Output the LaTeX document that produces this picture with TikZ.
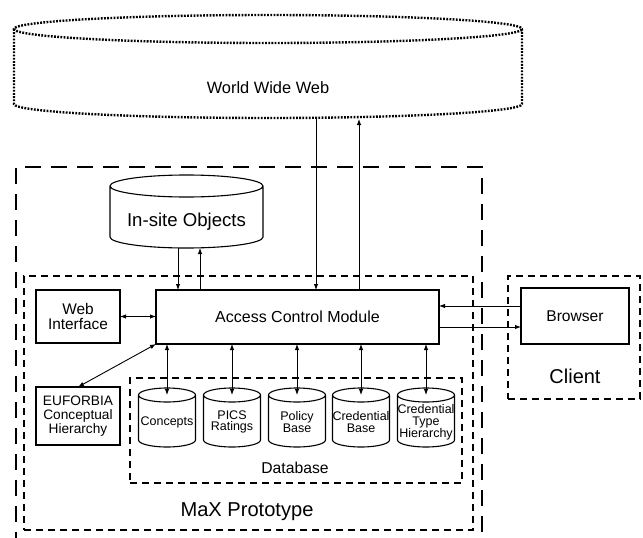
\documentclass[tikz,border=0pt]{standalone}
\usepackage{fontspec}
\setmainfont{Liberation Sans}
\usetikzlibrary{arrows.meta,calc}
\newcommand\fs[2]{\fontsize{#1}{#2}\selectfont}
\newcommand\drawcyl[4][]{%
  \draw[#1] ([yshift=-#4pt]#2.north west) -- ([yshift=#4pt]#2.south west)
    arc[start angle=180, end angle=360, x radius=#3pt, y radius=#4pt]
    -- ([yshift=-#4pt]#2.north east)
    arc[start angle=0, end angle=360, x radius=#3pt, y radius=#4pt];}
\begin{document}
\begin{tikzpicture}[x=1pt, y=-1pt,
  ghost/.style={inner sep=0pt, outer sep=0pt},
  box/.style={draw, line width=1.1pt, inner sep=0pt, outer sep=0pt, align=center},
  solidcyl/.style={line width=1.1pt},
  dotcyl/.style={line width=2.4pt, dash pattern=on 1.8pt off 1.4pt},
  longdash/.style={draw, line width=2pt, dash pattern=on 16pt off 10pt, inner sep=0pt},
  shortdash/.style={draw, line width=2pt, dash pattern=on 7pt off 5pt, inner sep=0pt},
  arr/.style={-{Latex[length=6pt,width=4.5pt]}, line width=0.9pt},
  arrb/.style={{Latex[length=6pt,width=4.5pt]}-{Latex[length=6pt,width=4.5pt]}, line width=0.9pt},
  cyltext/.style={ghost, align=center, font=\fs{12.5}{11.8}},
]
\useasboundingbox (0,0) rectangle (643,538);
\fill[white] (0,0) rectangle (643,538);

% containers
\node[longdash, minimum width=466pt, minimum height=393pt] (outer) at (249,363.5) {};
\node[shortdash, minimum width=449pt, minimum height=254pt] (maxbox) at (248.5,403) {};
\node[shortdash, minimum width=332pt, minimum height=105pt] (dbbox) at (296,430.5) {};
\node[shortdash, minimum width=132pt, minimum height=123pt] (clientbox) at (574,337.5) {};

% World Wide Web
\node[ghost, minimum width=508pt, minimum height=103pt] (www) at (268,66.5) {};
\drawcyl[dotcyl]{www}{254}{14}
\node[ghost, font=\fs{16.4}{19}] (wwwt) at (268,88) {World Wide Web};

% In-site objects
\node[ghost, minimum width=153pt, minimum height=73pt] (ins) at (186.5,211.5) {};
\drawcyl[solidcyl]{ins}{76.5}{11}
\node[ghost, font=\fs{18.6}{21}] (inst) at (186.5,222) {In-site Objects};

% boxes
\node[box, minimum width=283pt, minimum height=54pt, font=\fs{16}{19}] (acm) at (297.5,317) {Access Control Module};
\node[box, minimum width=84pt, minimum height=53pt, font=\fs{15.4}{15}] (web) at (78,316.5) {Web\\Interface};
\node[box, minimum width=84pt, minimum height=58pt, font=\fs{13.7}{14}] (euf) at (78,416) {EUFORBIA\\Conceptual\\Hierarchy};
\node[box, minimum width=108pt, minimum height=56pt, font=\fs{15.6}{18}] (brw) at (575,316) {Browser};

% database cylinders
\foreach \n/\x in {c1/167, c2/232, c3/297, c4/361, c5/426} {
  \node[ghost, minimum width=57pt, minimum height=59pt] (\n) at (\x,417.5) {};
  \drawcyl[solidcyl]{\n}{28.5}{7}
}
\node[cyltext] (c1t) at (167,422) {Concepts};
\node[cyltext] (c2t) at (232,422) {PICS\\Ratings};
\node[cyltext] (c3t) at (297,422) {Policy\\Base};
\node[cyltext] (c4t) at (361,422) {Credential\\Base};
\node[cyltext] (c5t) at (426,422.5) {Credential\\Type\\Hierarchy};

% labels
\node[ghost, font=\fs{15.7}{18}] (dbt) at (295,468) {Database};
\node[ghost, font=\fs{20}{23}] (clt) at (575,376) {Client};
\node[ghost, font=\fs{20.1}{23}] (maxt) at (247,512) {MaX Prototype};

% connectors
\coordinate (i1) at (178,290);
\coordinate (i2) at (200,290);
\coordinate (w1) at (316,290);
\coordinate (w2) at (359,290);
\draw[arr] (i1 |- ins.south) -- (i1);
\draw[arr] (i2) -- (i2 |- ins.south);
\draw[arr] (w1 |- www.south) -- (w1);
\draw[arr] (w2) -- ([yshift=-1pt]w2 |- www.south);
\draw[arrb] (web.east) -- (web.east -| acm.west);
\draw[arrb] (euf.north) -- (acm.south west);
\foreach \n in {c1,c2,c3,c4,c5} {
  \draw[arrb] (\n.north |- acm.south) -- ([yshift=-7pt]\n.north);
}
\coordinate (b1) at ([yshift=10pt]brw.west);
\coordinate (b2) at ([yshift=-11pt]brw.west);
\draw[arr] (b1) -- (b1 -| acm.east);
\draw[arr] (b2 -| acm.east) -- (b2);
\end{tikzpicture}
\end{document}
